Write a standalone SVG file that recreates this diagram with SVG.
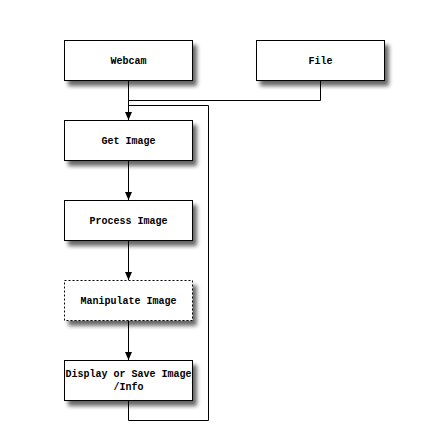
<svg xmlns="http://www.w3.org/2000/svg" width="448" height="440" viewBox="0 0 448 440">
<style>
.box{fill:#fff;stroke:#000;stroke-width:1}
.dash{stroke-dasharray:2,2}
.lbl{font-family:"Liberation Mono","DejaVu Sans Mono",monospace;font-size:10px;font-weight:bold;text-anchor:middle;fill:#000}
.ln{fill:none;stroke:#000;stroke-width:1}
</style>
<defs>
<filter id="sh" x="-20%" y="-30%" width="150%" height="180%">
<feGaussianBlur in="SourceAlpha" stdDeviation="2"/>
<feOffset dx="4" dy="5" result="b"/>
<feComponentTransfer><feFuncA type="linear" slope="0.6"/></feComponentTransfer>
<feMerge><feMergeNode/><feMergeNode in="SourceGraphic"/></feMerge>
</filter>
<marker id="ar" viewBox="0 0 8 7" refX="8" refY="3.5" markerWidth="8" markerHeight="7" markerUnits="userSpaceOnUse" orient="auto">
<path d="M0,0 L8,3.5 L0,7 Z" fill="#000"/>
</marker>
</defs>
<rect width="448" height="440" fill="#fff"/>
<g id="connectors">
<path class="ln" d="M128.5,80 V120" marker-end="url(#ar)"/>
<path class="ln" d="M320.5,80 V100.5 H128.5"/>
<path class="ln" d="M128.5,400 V420.5 H208.5 V105.5 H128.5"/>
<path class="ln" d="M128.5,160 V200" marker-end="url(#ar)"/>
<path class="ln" d="M128.5,240 V280" marker-end="url(#ar)"/>
<path class="ln" d="M128.5,320 V360" marker-end="url(#ar)"/>
</g>
<g id="webcam"><rect class="box" x="64.5" y="40.5" width="128" height="40" filter="url(#sh)"/><text class="lbl" x="128.5" y="64">Webcam</text></g>
<g id="file"><rect class="box" x="256.5" y="40.5" width="128" height="40" filter="url(#sh)"/><text class="lbl" x="320.5" y="64">File</text></g>
<g id="get-image"><rect class="box" x="64.5" y="120.5" width="128" height="40" filter="url(#sh)"/><text class="lbl" x="128.5" y="144">Get Image</text></g>
<g id="process-image"><rect class="box" x="64.5" y="200.5" width="128" height="40" filter="url(#sh)"/><text class="lbl" x="128.5" y="224">Process Image</text></g>
<g id="manipulate-image"><rect class="box dash" x="64.5" y="280.5" width="128" height="40" filter="url(#sh)"/><text class="lbl" x="128.5" y="304">Manipulate Image</text></g>
<g id="display"><rect class="box" x="64.5" y="360.5" width="128" height="40" filter="url(#sh)"/><text class="lbl" x="128.5" y="377">Display or Save Image</text><text class="lbl" x="128.5" y="390">/Info</text></g>
</svg>
